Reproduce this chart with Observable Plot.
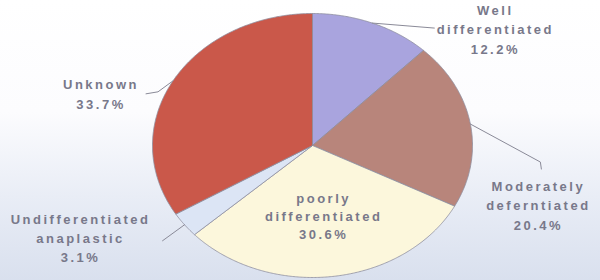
<!DOCTYPE html>
<html>
<head>
<meta charset="utf-8">
<script src="https://cdn.jsdelivr.net/npm/d3@7"></script>
<script src="https://cdn.jsdelivr.net/npm/@observablehq/plot@0.6"></script>
<style>
  html, body { margin: 0; padding: 0; }
  body {
    width: 600px; height: 280px; overflow: hidden;
    background: linear-gradient(to bottom, #ffffff 0%, #fcfcfe 40%, #e9edf6 70%, #d9e0ee 100%);
    font-family: "Liberation Sans", Arial, sans-serif;
  }
  #chart svg { background: transparent; }
  #chart text { letter-spacing: 2.5px; }
</style>
</head>
<body>
<div id="chart"></div>
<script>
// ---- data ----
const categories = ["Well differentiated", "Moderately deferntiated", "poorly differentiated", "Undifferentiated anaplastic", "Unknown"];
const labelNames = ["Well\ndifferentiated", "Moderately\ndeferntiated", "poorly\ndifferentiated", "Undifferentiated\nanaplastic", "Unknown"];
const values = [12.2, 20.4, 30.6, 3.1, 33.7];
const colors = ["#a9a4de", "#b8857b", "#fcf7dc", "#dce5f5", "#ca584a"];

// ---- layout (pixels) ----
const W = 600, H = 280;
const CX = 312, CY = 145, RX = 160, RY = 132;
// label block centre offsets from the slice's mid-angle edge point (px); inside labels use radius fraction
const labelLayout = [
  {dx: 123, dy: 5, lh: 1.5},
  {dx: 68, dy: 80, lh: 1.5},
  {inside: 0.53, lh: 1.38},
  {dx: -104, dy: 12, lh: 1.5},
  {dx: -72, dy: 12, lh: 1.5}
];
// leader line bend/end points as offsets from the edge point (px)
const leaderLayout = [
  [[62, 5]],
  [[70, 38], [71, 45]],
  null,
  [[-22, 16]],
  [[-15, 11], [-27, 13]]
];

const data = categories.map((name, i) => ({name, label: labelNames[i], value: values[i]}));
const arcs = d3.pie().sort(null).value(d => d.value)(data);

// polygon outline of each slice, in pie units (radius 1)
const slicePts = [];
arcs.forEach(a => {
  const n = Math.max(2, Math.ceil((a.endAngle - a.startAngle) / (Math.PI / 360)));
  slicePts.push({name: a.data.name, x: 0, y: 0});
  for (let i = 0; i <= n; i++) {
    const t = a.startAngle + (a.endAngle - a.startAngle) * i / n;
    slicePts.push({name: a.data.name, x: Math.sin(t), y: Math.cos(t)});
  }
  slicePts.push({name: a.data.name, x: 0, y: 0});
});

const labels = [];
const leaders = [];
arcs.forEach((a, i) => {
  const mid = (a.startAngle + a.endAngle) / 2;
  const ex = Math.sin(mid), ey = Math.cos(mid);
  const L = labelLayout[i];
  const text = a.data.label + "\n" + a.data.value.toFixed(1) + "%";
  if (L.inside) {
    labels.push({text, lh: L.lh, x: ex * L.inside, y: ey * L.inside});
  } else {
    labels.push({text, lh: L.lh, x: ex + L.dx / RX, y: ey - L.dy / RY});
  }
  const ld = leaderLayout[i];
  if (ld) {
    leaders.push({id: i, x: ex, y: ey});
    ld.forEach(([ox, oy]) => leaders.push({id: i, x: ex + ox / RX, y: ey - oy / RY}));
  }
});

const textOpts = {x: "x", y: "y", text: "text", fill: "#78788a", fontSize: 13, fontWeight: "bold",
  fontFamily: "Liberation Sans, Arial, sans-serif", textAnchor: "middle", lineAnchor: "middle"};

const plot = Plot.plot({
  width: W, height: H,
  margin: 0,
  style: {background: "transparent", overflow: "visible"},
  x: {domain: [-CX / RX, (W - CX) / RX], range: [0, W], axis: null},
  y: {domain: [-(H - CY) / RY, CY / RY], range: [H, 0], axis: null},
  color: {domain: categories, range: colors},
  marks: [
    Plot.line(slicePts, {x: "x", y: "y", z: "name", fill: "name", stroke: "#8e8e9e", strokeWidth: 0.8, curve: "linear"}),
    Plot.line(leaders, {x: "x", y: "y", z: "id", stroke: "#8a8a98", strokeWidth: 1, curve: "linear"}),
    Plot.text(labels.filter(d => d.lh === 1.5), {...textOpts, lineHeight: 1.5}),
    Plot.text(labels.filter(d => d.lh !== 1.5), {...textOpts, lineHeight: 1.38})
  ]
});
document.getElementById("chart").appendChild(plot);
</script>
</body>
</html>
